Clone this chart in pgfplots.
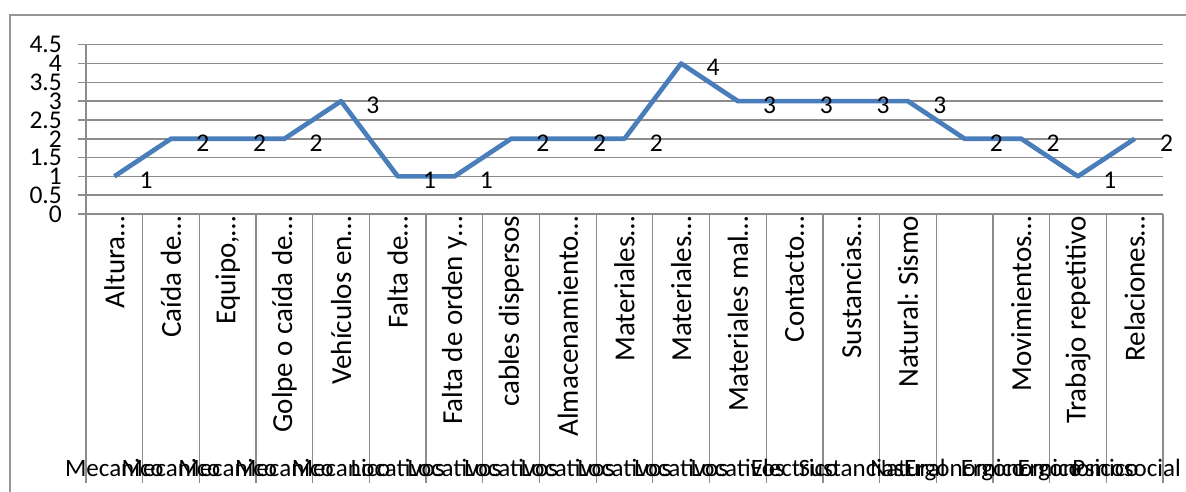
\documentclass[border=0pt]{standalone}
\usepackage{pgfplots}
\pgfplotsset{compat=1.18}
\usepackage{fontspec}
\setmainfont{Carlito}
\frenchspacing
\definecolor{linecol}{RGB}{74,126,187}
\definecolor{gridcol}{RGB}{140,140,140}
\definecolor{framecol}{RGB}{150,150,150}
\begin{document}
\frenchspacing
\begin{tikzpicture}[x=1pt,y=1pt]
\useasboundingbox (0,0) rectangle (1186,491);
\clip (0,0) rectangle (1186,491);
\draw[framecol, line width=1.3pt] (10,-10) -- (10,476) -- (1200,476);
\begin{axis}[
  at={(86pt,277pt)}, anchor=south west,
  scale only axis, width=1077pt, height=169.3pt,
  xmin=-0.5, xmax=18.5, ymin=0, ymax=4.5,
  xtick={0,...,18},
  xticklabels={Altura…,Caída de…,{Equipo,…},Golpe o caída de…,Vehículos en…,Falta de…,Falta de orden y…,cables dispersos,Almacenamiento…,Materiales…,Materiales…,Materiales mal…,Contacto…,Sustancias…,Natural: Sismo,{},Movimientos…,Trabajo repetitivo,Relaciones…},
  xticklabel style={rotate=90, anchor=east, inner sep=0pt, font=\fontsize{29}{31}\selectfont},
  xticklabel shift=-6pt,
  ytick={0,0.5,...,4.5},
  yticklabels={0,0.5,1,1.5,2,2.5,3,3.5,4,4.5},
  yticklabel style={anchor=east, inner sep=0pt, font=\fontsize{25.5}{27}\selectfont},
  yticklabel shift=16pt,
  axis x line*=bottom, axis y line*=left,
  x axis line style={draw=none},
  y axis line style={gridcol, line width=1.5pt, -},
  xtick style={draw=none},
  ytick style={gridcol, line width=1.5pt},
  tick align=outside, major tick length=8pt,
  ymajorgrids, grid style={gridcol, line width=1.5pt},
  /pgf/number format/assume math mode=true,
  clip=false,
]
\addplot[linecol, line width=4.7pt, line join=round, mark=none,
  nodes near coords,
  every node near coord/.append style={anchor=west, inner sep=0pt, xshift=23pt, yshift=-4pt, text=black, font=\fontsize{25.5}{27}\selectfont}]
  coordinates {(0,1) (1,2) (2,2) (3,2) (4,3) (5,1) (6,1) (7,2) (8,2) (9,2) (10,4) (11,3) (12,3) (13,3) (14,3) (15,2) (16,2) (17,1) (18,2)};
\pgfplotsinvokeforeach{-0.5,0.5,...,18.5}{
  \draw[gridcol, line width=1.3pt] (axis cs:#1,0) -- ++(0pt,-269pt);
}
\end{axis}
\begin{axis}[
  at={(86pt,277pt)}, anchor=south west,
  scale only axis, width=1077pt, height=169.3pt,
  xmin=-0.5, xmax=18.5, ymin=0, ymax=4.5,
  axis line style={draw=none}, ytick=\empty,
  xtick={0,...,18}, xtick style={draw=none}, major tick length=0pt,
  xticklabels={Mecanico,Mecanico,Mecanico,Mecanico,Mecanico,Locativos,Locativos,Locativos,Locativos,Locativos,Locativos,Locativos,Electrico,Sustancias,Natural,Ergonomico,Ergonomico,Ergonomico,{\hspace*{-16pt}Psicosocial}},
  xticklabel style={anchor=base, inner sep=0pt, yshift=-262pt, font=\fontsize{25}{27}\selectfont},
  clip=false,
]
\addplot[draw=none] coordinates {(0,0)};
\end{axis}
\end{tikzpicture}
\end{document}
